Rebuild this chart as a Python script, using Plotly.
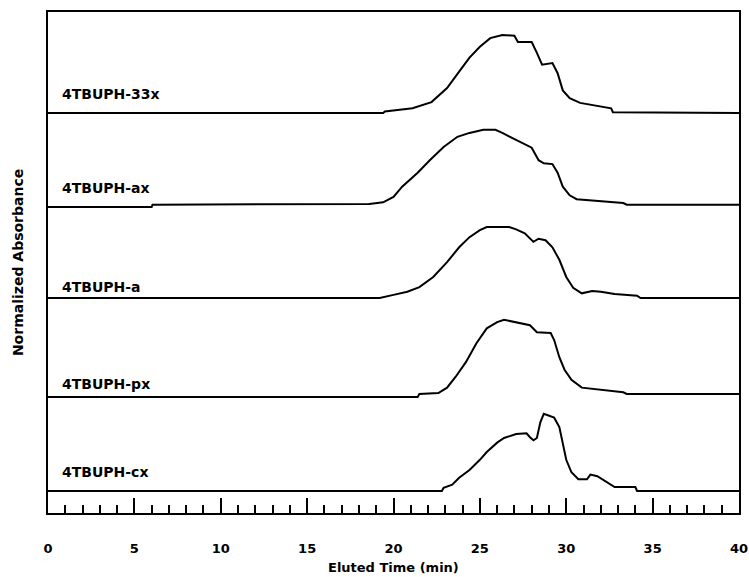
import plotly.graph_objects as go

# Eluted time (min) and normalized absorbance for each sample
names = ["4TBUPH-33x", "4TBUPH-ax", "4TBUPH-a", "4TBUPH-px", "4TBUPH-cx"]

t_33x = [0, 19.4, 19.5, 21.1, 22.2, 23.1, 23.8, 24.4, 25.0, 25.6, 26.3, 27.0, 27.2, 28.0, 28.3, 28.6, 29.2, 29.5, 29.8, 30.2, 30.8, 31.8, 32.6, 32.7, 40]
a_33x = [0, 0, 0.02, 0.06, 0.14, 0.32, 0.53, 0.71, 0.85, 0.96, 1.0, 0.99, 0.91, 0.91, 0.77, 0.62, 0.64, 0.51, 0.29, 0.19, 0.13, 0.09, 0.06, 0.01, 0]

t_ax = [0, 6.0, 6.05, 18.6, 19.4, 20.0, 20.5, 21.4, 22.1, 22.9, 23.7, 24.4, 25.2, 25.9, 26.3, 26.9, 27.5, 28.0, 28.4, 28.7, 29.2, 29.5, 29.8, 30.2, 30.6, 31.9, 33.3, 33.5, 40]
a_ax = [0, 0, 0.03, 0.04, 0.06, 0.13, 0.26, 0.44, 0.60, 0.77, 0.90, 0.95, 0.99, 0.99, 0.95, 0.88, 0.82, 0.76, 0.60, 0.56, 0.55, 0.44, 0.26, 0.15, 0.10, 0.08, 0.05, 0.03, 0.03]

t_a = [0, 19.2, 20.0, 20.8, 21.5, 22.3, 23.1, 23.8, 24.4, 25.0, 25.4, 26.7, 27.1, 27.6, 28.1, 28.4, 28.8, 29.2, 29.6, 30.0, 30.4, 30.9, 31.5, 32.0, 32.8, 34.1, 34.3, 40]
a_a = [0, 0, 0.04, 0.08, 0.14, 0.27, 0.46, 0.65, 0.78, 0.87, 0.91, 0.91, 0.88, 0.83, 0.72, 0.76, 0.74, 0.65, 0.49, 0.27, 0.13, 0.06, 0.09, 0.08, 0.05, 0.03, 0, 0]

t_px = [0, 21.4, 21.5, 22.6, 23.1, 23.6, 24.2, 24.8, 25.4, 26.0, 26.4, 27.0, 27.9, 28.3, 29.1, 29.3, 29.6, 29.9, 30.3, 30.9, 31.8, 33.3, 33.5, 40]
a_px = [0, 0, 0.04, 0.05, 0.12, 0.26, 0.45, 0.69, 0.88, 0.96, 0.99, 0.96, 0.92, 0.83, 0.82, 0.73, 0.51, 0.35, 0.22, 0.12, 0.10, 0.06, 0.04, 0.04]

t_cx = [0, 22.8, 22.9, 23.4, 23.8, 24.4, 25.0, 25.4, 26.0, 26.4, 27.1, 27.7, 27.9, 28.1, 28.3, 28.5, 28.7, 28.9, 29.3, 29.6, 29.8, 30.0, 30.3, 30.7, 31.2, 31.4, 31.8, 32.3, 32.8, 34.0, 34.1, 40]
a_cx = [0, 0, 0.04, 0.08, 0.17, 0.27, 0.40, 0.50, 0.62, 0.68, 0.73, 0.74, 0.69, 0.65, 0.68, 0.88, 0.99, 0.97, 0.94, 0.82, 0.62, 0.40, 0.24, 0.15, 0.15, 0.21, 0.19, 0.12, 0.05, 0.05, 0, 0]

x_ticks = [0, 5, 10, 15, 20, 25, 30, 35, 40]

series = [(t_33x, a_33x), (t_ax, a_ax), (t_a, a_a), (t_px, a_px), (t_cx, a_cx)]
offsets = [400, 306, 215, 116, 22]
label_y = [419, 325, 226, 129, 41]
scale = 78

fig = go.Figure()
for (t, a), off in zip(series, offsets):
    fig.add_trace(go.Scatter(x=t, y=[off + v * scale for v in a], mode="lines",
                             line=dict(color="black", width=2), showlegend=False,
                             hoverinfo="skip"))

for name, ly in zip(names, label_y):
    fig.add_annotation(x=0.7, y=ly, xref="x", yref="y", text=name, showarrow=False,
                       xanchor="left", yanchor="middle",
                       font=dict(family="DejaVu Sans", size=14, color="black", weight="bold"))

fig.add_annotation(x=0.5, y=-0.108, xref="paper", yref="paper", text="Eluted Time (min)",
                   showarrow=False, xanchor="center", yanchor="middle",
                   font=dict(family="DejaVu Sans", size=13, color="black", weight="bold"))
fig.add_annotation(x=-0.044, y=0.5, xref="paper", yref="paper", text="Normalized Absorbance",
                   showarrow=False, textangle=-90, xanchor="center", yanchor="middle",
                   font=dict(family="DejaVu Sans", size=14, color="black", weight="bold"))

fig.update_layout(
    width=749, height=577,
    margin=dict(l=48, r=10, t=12, b=64, autoexpand=False),
    paper_bgcolor="white", plot_bgcolor="white",
    xaxis=dict(range=[0, 40], showline=True, mirror=True, linecolor="black", linewidth=2,
               showgrid=False, zeroline=False, ticks="inside", tickvals=x_ticks,
               ticklen=15, tickwidth=1.5, tickcolor="black", automargin=False,
               minor=dict(dtick=1, ticks="inside", ticklen=8, tickwidth=1.5, tickcolor="black", showgrid=False),
               ticklabelstandoff=22,
               tickfont=dict(family="DejaVu Sans", size=13, color="black", weight="bold")),
    yaxis=dict(range=[0, 501], showline=True, mirror=True, linecolor="black", linewidth=2,
               showgrid=False, zeroline=False, showticklabels=False, ticks="", automargin=False),
)

fig.write_html("out.html", config={"displayModeBar": False},
               post_script="document.body.style.margin='0';document.body.style.overflow='hidden';")
